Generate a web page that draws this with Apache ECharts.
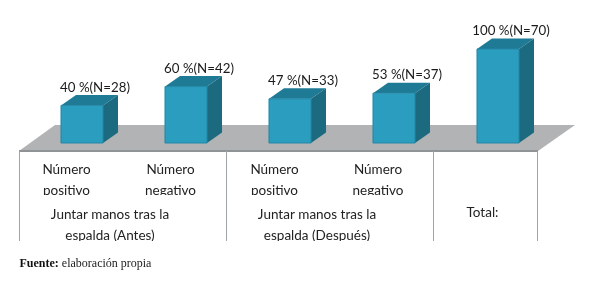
<!DOCTYPE html>
<html>
<head>
<meta charset="utf-8">
<style>html,body{margin:0;padding:0;background:#fff}#c{width:589px;height:284px}</style>
<script src="https://cdn.jsdelivr.net/npm/echarts@6/dist/echarts.min.js"></script>
</head>
<body>
<div id="c"></div>
<script>
var categories = ['Número\npositivo', 'Número\nnegativo', 'Número\npositivo', 'Número\nnegativo', 'Total:'];
var percents = [40, 60, 47, 53, 100];
var counts = [28, 42, 33, 37, 70];
var groups = ['Juntar manos tras la\nespalda (Antes)', 'Juntar manos tras la\nespalda (Después)'];
var source = 'elaboración propia';

var FONT = 'Lato, "Open Sans", sans-serif';
var depthX = 15, depthY = 10.5;

function renderBar(params, api) {
  var i = api.value(0);
  var top = api.coord([i, api.value(1)]);
  var base = api.coord([i, 0]);
  var w = api.size([1, 0])[0] * 0.404;
  var l = top[0] - w / 2, r = top[0] + w / 2, t = top[1], b = base[1];
  return {
    type: 'group',
    children: [
      { type: 'polygon', shape: { points: [[l, t], [r, t], [r + depthX, t - depthY], [l + depthX, t - depthY]] },
        style: { fill: '#1f7a96' } },
      { type: 'polygon', shape: { points: [[r, t], [r + depthX, t - depthY], [r + depthX, b - depthY], [r, b]] },
        style: { fill: '#1c6a80' } },
      { type: 'rect', shape: { x: l, y: t, width: w, height: b - t },
        style: { fill: '#2b9dbf', stroke: '#2587a5', lineWidth: 1 } },
      { type: 'text', style: { text: api.value(1) + ' %(N=' + counts[i] + ')', x: top[0] + 13, y: t - 18,
        align: 'center', verticalAlign: 'middle', fill: '#1a1a1a', font: '13.3px ' + FONT } }
    ]
  };
}

function label(text, x, y, z) {
  return { type: 'text', z: z || 5, style: { text: text, x: x, y: y, align: 'center', verticalAlign: 'middle',
    fill: '#222', font: '13.5px ' + FONT, lineHeight: 21 } };
}
function sep(x) {
  return { type: 'line', z: 3, shape: { x1: x, y1: 151, x2: x, y2: 241 }, style: { stroke: '#a2a5a7', lineWidth: 1 } };
}
var elements = [
  { type: 'polygon', z: 0, shape: { points: [[55, 125], [575, 125], [538, 151], [19, 151]] }, style: { fill: '#b1b3b5' } },
  { type: 'line', z: 3, shape: { x1: 19, y1: 151, x2: 538, y2: 151 }, style: { stroke: '#8f9395', lineWidth: 2 } },
  sep(19.5), sep(226.5), sep(433.5), sep(537.5),
  label(groups[0], 110, 225),
  label(groups[1], 317, 225)
];
var labelX = [66.5, 170.5, 274.5, 378];
labelX.forEach(function (x, i) { elements.push(label(categories[i], x, 180.5)); });
elements.push(label(categories[4], 482.5, 213));
// the reference crops the tick text at these two lines
elements.push({ type: 'rect', z: 6, shape: { x: 30, y: 195, width: 185, height: 4 }, style: { fill: '#fff' } });
elements.push({ type: 'rect', z: 6, shape: { x: 237, y: 195, width: 185, height: 4 }, style: { fill: '#fff' } });
elements.push({ type: 'rect', z: 6, shape: { x: 0, y: 241, width: 589, height: 8 }, style: { fill: '#fff' } });
elements.push({ type: 'text', z: 7, style: { text: '{b|Fuente:} ' + source, x: 19.5, y: 264, verticalAlign: 'middle',
  rich: { b: { fontWeight: 'bold', fontFamily: '"Liberation Serif"', fontSize: 12, fill: '#111' } },
  fill: '#222', font: '12px "Liberation Serif"' } });

var chart = echarts.init(document.getElementById('c'), null, { renderer: 'canvas' });
chart.setOption({
  animation: false,
  backgroundColor: '#fff',
  grid: { left: 30, width: 520, top: 49, height: 94 },
  xAxis: { type: 'category', data: categories, show: false },
  yAxis: { type: 'value', min: 0, max: 100, show: false },
  graphic: { elements: elements },
  series: [{
    type: 'custom', z: 2, clip: false,
    encode: { x: 0, y: 1 },
    data: percents.map(function (v, i) { return [i, v]; }),
    renderItem: renderBar
  }]
});
</script>
</body>
</html>
